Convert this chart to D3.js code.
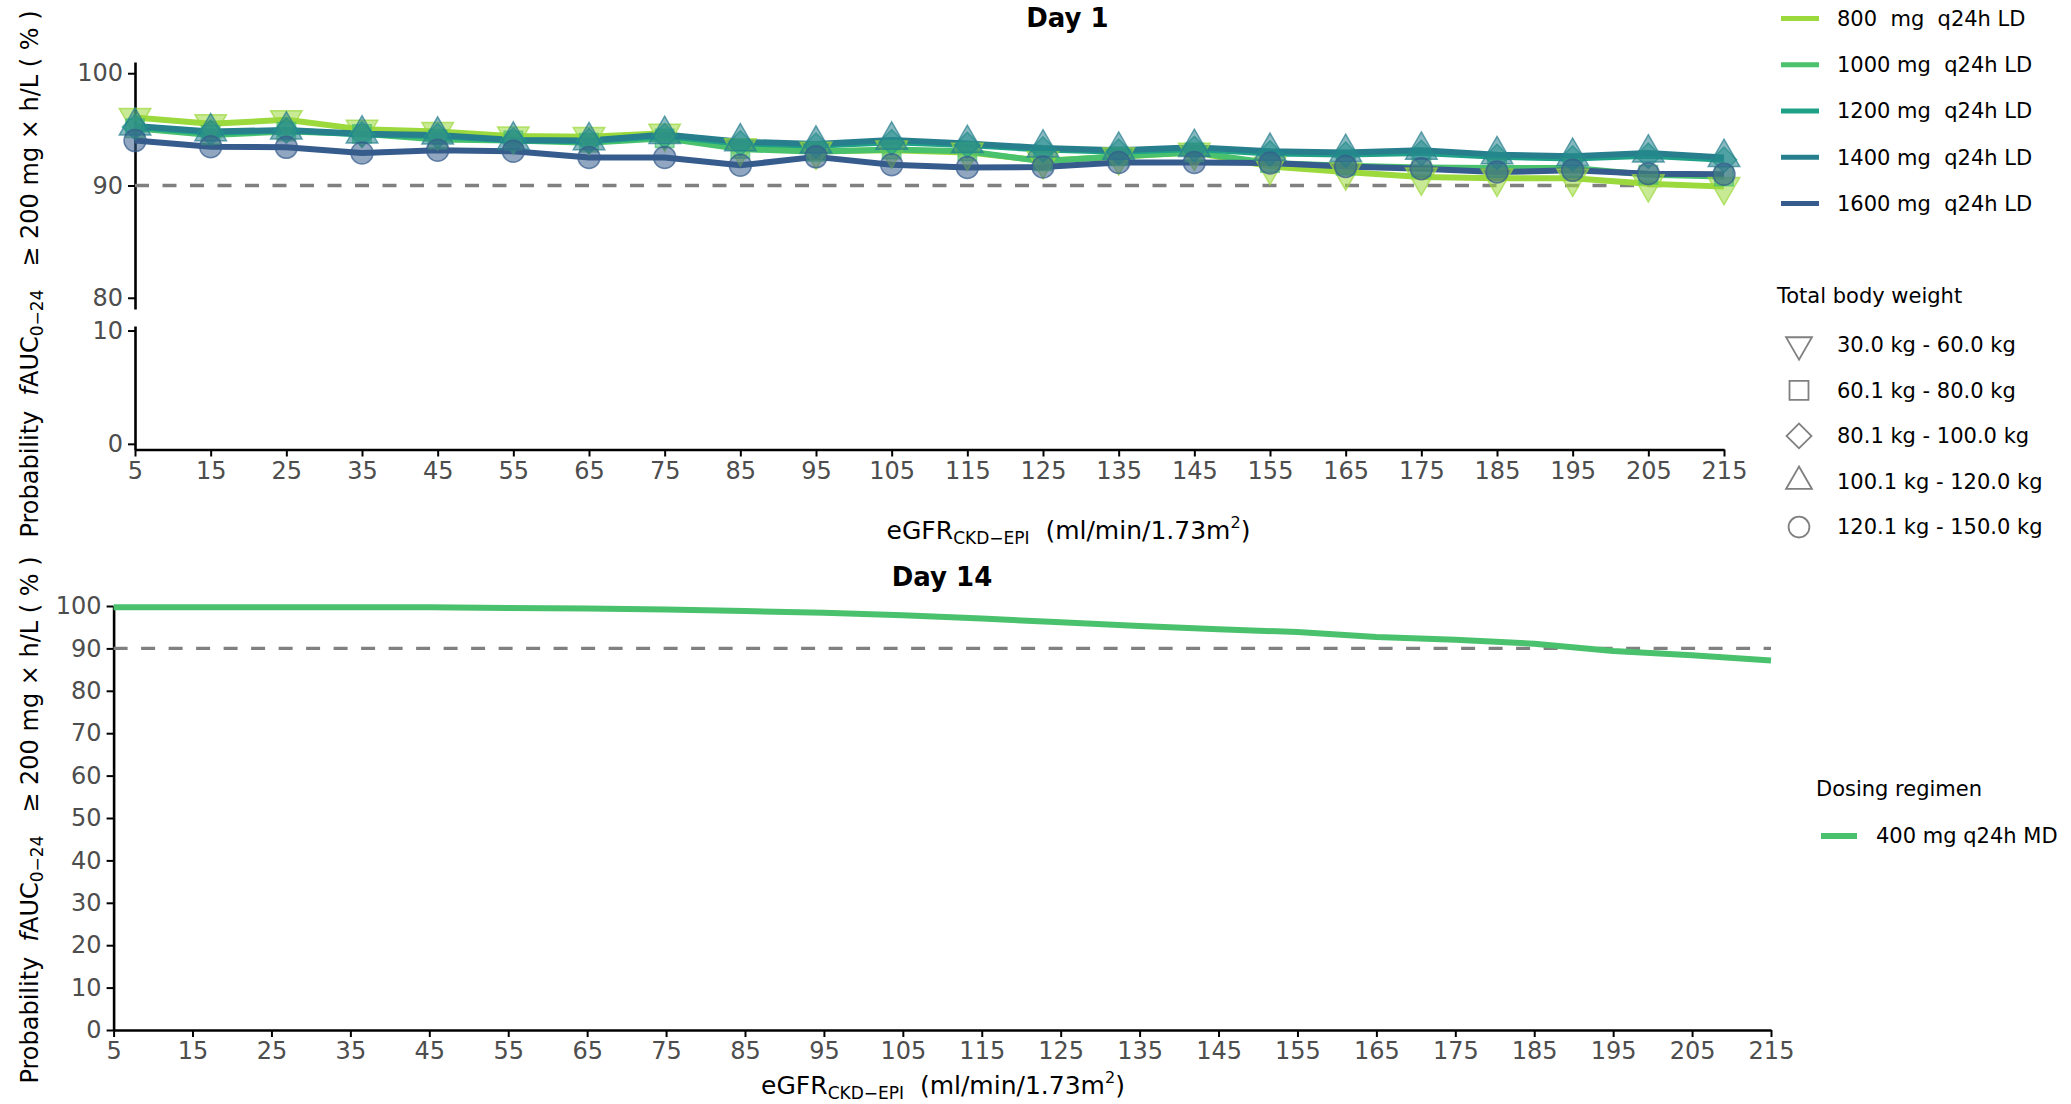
<!DOCTYPE html>
<html>
<head>
<meta charset="utf-8">
<script src="https://cdn.jsdelivr.net/npm/d3@7"></script>
<style>
  body { margin: 0; background: #fff; }
  text { font-family: "DejaVu Sans", sans-serif; }
</style>
</head>
<body>
<svg id="chart" width="2071" height="1104"></svg>
<script>
// ---- data ----
const egfr = [5, 15, 25, 35, 45, 55, 65, 75, 85, 95, 105, 115, 125, 135, 145, 155, 165, 175, 185, 195, 205, 215];

const doseNames = ["800  mg  q24h LD", "1000 mg  q24h LD", "1200 mg  q24h LD", "1400 mg  q24h LD", "1600 mg  q24h LD"];
const weightNames = ["30.0 kg - 60.0 kg", "60.1 kg - 80.0 kg", "80.1 kg - 100.0 kg", "100.1 kg - 120.0 kg", "120.1 kg - 150.0 kg"];

// Day 1, probability (%) per loading dose
const p800  = [96.05, 95.5, 95.85, 95.0, 94.8, 94.4, 94.35, 94.65, 93.35, 93.05, 93.15, 92.95, 92.2, 92.55, 92.95, 91.7, 91.2, 90.75, 90.65, 90.65, 90.15, 89.9];
const p1000 = [95.1, 94.5, 94.8, 94.6, 94.1, 94.0, 93.8, 94.2, 93.25, 93.0, 93.2, 93.05, 92.15, 92.6, 92.95, 92.0, 91.75, 91.6, 91.55, 91.55, 90.95, 90.8];
const p1200 = [95.2, 94.7, 94.9, 94.55, 94.4, 94.0, 93.95, 94.4, 93.75, 93.55, 93.85, 93.6, 93.2, 93.0, 93.25, 92.85, 92.75, 92.9, 92.55, 92.4, 92.65, 92.3];
const p1400 = [95.3, 94.8, 94.95, 94.6, 94.5, 94.05, 94.0, 94.55, 93.9, 93.7, 94.05, 93.75, 93.35, 93.15, 93.4, 93.05, 92.95, 93.15, 92.75, 92.6, 92.9, 92.5];
const p1600 = [94.0, 93.45, 93.4, 92.9, 93.15, 93.05, 92.5, 92.5, 91.8, 92.55, 91.85, 91.6, 91.65, 92.05, 92.05, 92.0, 91.7, 91.5, 91.2, 91.35, 91.05, 91.0];

// Day 14, maintenance dose
const mdName = "400 mg q24h MD";
const p400md = [99.7, 99.7, 99.7, 99.7, 99.7, 99.5, 99.4, 99.15, 98.8, 98.4, 97.8, 97.05, 96.15, 95.3, 94.5, 93.85, 92.7, 92.05, 91.1, 89.4, 88.4, 87.15];

const target = 90;
const yTicksUpper = [80, 90, 100];
const yTicksLower = [0, 10];
const yTicksDay14 = [0, 10, 20, 30, 40, 50, 60, 70, 80, 90, 100];

// ---- styles ----
const doseColors = ["#9bd93c", "#4ac16d", "#1fa187", "#277f8e", "#365c8d"];
const mdColor = "#4ac16d";
const tickColor = "#4d4d4d";

const svg = d3.select("#chart");

const markerDefs = [
  { type: d3.symbolTriangle, rot: 180, size: 430 },
  { type: d3.symbolSquare, rot: 0, size: 340 },
  { type: d3.symbolSquare, rot: 45, size: 320 },
  { type: d3.symbolTriangle, rot: 0, size: 430 },
  { type: d3.symbolCircle, rot: 0, size: 380 }
];

function styleAxis(g) {
  g.select(".domain").attr("stroke", "#000").attr("stroke-width", 2.6);
  g.selectAll(".tick line").attr("stroke", "#000").attr("stroke-width", 2);
  g.selectAll(".tick text").attr("fill", tickColor).attr("font-size", 24)
    .attr("font-family", "DejaVu Sans");
}

function yLabel(x, y) {
  const t = svg.append("text")
    .attr("transform", `translate(${x},${y}) rotate(-90)`)
    .attr("text-anchor", "middle")
    .attr("font-size", 24)
    .attr("fill", "#000")
    .attr("xml:space", "preserve");
  t.append("tspan").text("Probability  ");
  t.append("tspan").attr("font-style", "italic").text("f");
  t.append("tspan").text("AUC");
  t.append("tspan").attr("font-size", 17).attr("dy", 5).text("0\u221224");
  t.append("tspan").attr("dy", -5).text("   \u2265 200 mg \u00d7 h/L ( % )");
}

function xLabel(x, y) {
  const t = svg.append("text")
    .attr("x", x).attr("y", y)
    .attr("text-anchor", "middle")
    .attr("font-size", 25)
    .attr("fill", "#000")
    .attr("xml:space", "preserve");
  t.append("tspan").text("eGFR");
  t.append("tspan").attr("font-size", 17).attr("dy", 5).text("CKD\u2212EPI");
  t.append("tspan").attr("dy", -5).text("  (ml/min/1.73m");
  t.append("tspan").attr("font-size", 16).attr("dy", -11).text("2");
  t.append("tspan").attr("dy", 11).text(")");
}

// ================= Day 1 =================
const x1 = d3.scaleLinear().domain([5, 215]).range([135, 1724]);
const yUp = d3.scaleLinear().domain([79, 101]).range([309, 62]);
const yLow = d3.scaleLinear().domain([-0.5, 10.4]).range([449.5, 326]);

svg.append("g").attr("transform", "translate(135,0)")
  .call(d3.axisLeft(yUp).tickValues(yTicksUpper).tickSize(7).tickPadding(5).tickSizeOuter(0))
  .call(styleAxis);
svg.append("g").attr("transform", "translate(135,0)")
  .call(d3.axisLeft(yLow).tickValues(yTicksLower).tickSize(7).tickPadding(5).tickSizeOuter(0))
  .call(styleAxis);
svg.append("g").attr("transform", "translate(0,449.5)")
  .call(d3.axisBottom(x1).tickValues(egfr).tickSize(7).tickPadding(5).tickSizeOuter(0))
  .call(styleAxis);

svg.append("line")
  .attr("x1", x1(5)).attr("x2", x1(215))
  .attr("y1", yUp(target)).attr("y2", yUp(target))
  .attr("stroke", "#808080").attr("stroke-width", 3.3).attr("stroke-dasharray", "14,13.5");

const day1 = [p800, p1000, p1200, p1400, p1600];
const line1 = d3.line().x((d, i) => x1(egfr[i])).y(d => yUp(d));

day1.forEach((vals, k) => {
  svg.append("path")
    .attr("d", line1(vals))
    .attr("fill", "none")
    .attr("stroke", doseColors[k])
    .attr("stroke-width", 6)
    .attr("stroke-linejoin", "round");
});
day1.forEach((vals, k) => {
  const m = markerDefs[k];
  const sym = d3.symbol().type(m.type).size(m.size);
  svg.append("g").selectAll("path")
    .data(vals).enter().append("path")
    .attr("d", sym)
    .attr("transform", (d, i) => `translate(${x1(egfr[i])},${yUp(d)}) rotate(${m.rot})`)
    .attr("fill", doseColors[k]).attr("fill-opacity", 0.55)
    .attr("stroke", doseColors[k]).attr("stroke-opacity", 0.7).attr("stroke-width", 1.5);
});

svg.append("text").attr("x", 1067.5).attr("y", 27)
  .attr("text-anchor", "middle").attr("font-size", 26).attr("font-weight", "bold")
  .text("Day 1");

yLabel(38, 274);
xLabel(1068.5, 539);

// legend: dosing
const legTop = svg.append("g");
doseNames.forEach((name, k) => {
  const yy = 18.6 + k * 46.2;
  legTop.append("line").attr("x1", 1781).attr("x2", 1819).attr("y1", yy).attr("y2", yy)
    .attr("stroke", doseColors[k]).attr("stroke-width", 5);
  legTop.append("text").attr("x", 1837).attr("y", yy).attr("dy", "0.35em")
    .attr("font-size", 21).attr("xml:space", "preserve").text(name);
});
legTop.append("text").attr("x", 1777).attr("y", 296).attr("dy", "0.35em")
  .attr("font-size", 21).text("Total body weight");
const legMarkerSizes = [290, 360, 310, 290, 340];
weightNames.forEach((name, k) => {
  const yy = 344.7 + k * 45.6;
  const m = markerDefs[k];
  legTop.append("path")
    .attr("d", d3.symbol().type(m.type).size(legMarkerSizes[k]))
    .attr("transform", `translate(1799,${yy}) rotate(${m.rot})`)
    .attr("fill", "none").attr("stroke", "#808080").attr("stroke-width", 1.8);
  legTop.append("text").attr("x", 1837).attr("y", yy).attr("dy", "0.35em")
    .attr("font-size", 21).text(name);
});

// ================= Day 14 =================
const x2 = d3.scaleLinear().domain([5, 215]).range([113.6, 1771]);
const y2 = d3.scaleLinear().domain([0, 100]).range([1030, 606]);

svg.append("g").attr("transform", "translate(113.6,0)")
  .call(d3.axisLeft(y2).tickValues(yTicksDay14).tickSize(7).tickPadding(5).tickSizeOuter(0))
  .call(styleAxis);
svg.append("g").attr("transform", "translate(0,1030)")
  .call(d3.axisBottom(x2).tickValues(egfr).tickSize(7).tickPadding(5).tickSizeOuter(0))
  .call(styleAxis);

svg.append("line")
  .attr("x1", x2(5)).attr("x2", x2(215))
  .attr("y1", y2(target)).attr("y2", y2(target))
  .attr("stroke", "#808080").attr("stroke-width", 3.3).attr("stroke-dasharray", "14,13.5");

svg.append("path")
  .attr("d", d3.line().x((d, i) => x2(egfr[i])).y(d => y2(d))(p400md))
  .attr("fill", "none").attr("stroke", mdColor).attr("stroke-width", 6)
  .attr("stroke-linejoin", "round");

svg.append("text").attr("x", 942).attr("y", 586)
  .attr("text-anchor", "middle").attr("font-size", 26).attr("font-weight", "bold")
  .text("Day 14");

yLabel(38, 820);
xLabel(943, 1094);

const legBot = svg.append("g");
legBot.append("text").attr("x", 1816).attr("y", 789).attr("dy", "0.35em")
  .attr("font-size", 21).text("Dosing regimen");
legBot.append("line").attr("x1", 1821).attr("x2", 1857).attr("y1", 836).attr("y2", 836)
  .attr("stroke", mdColor).attr("stroke-width", 6);
legBot.append("text").attr("x", 1876).attr("y", 836).attr("dy", "0.35em")
  .attr("font-size", 21).text(mdName);
</script>
</body>
</html>
